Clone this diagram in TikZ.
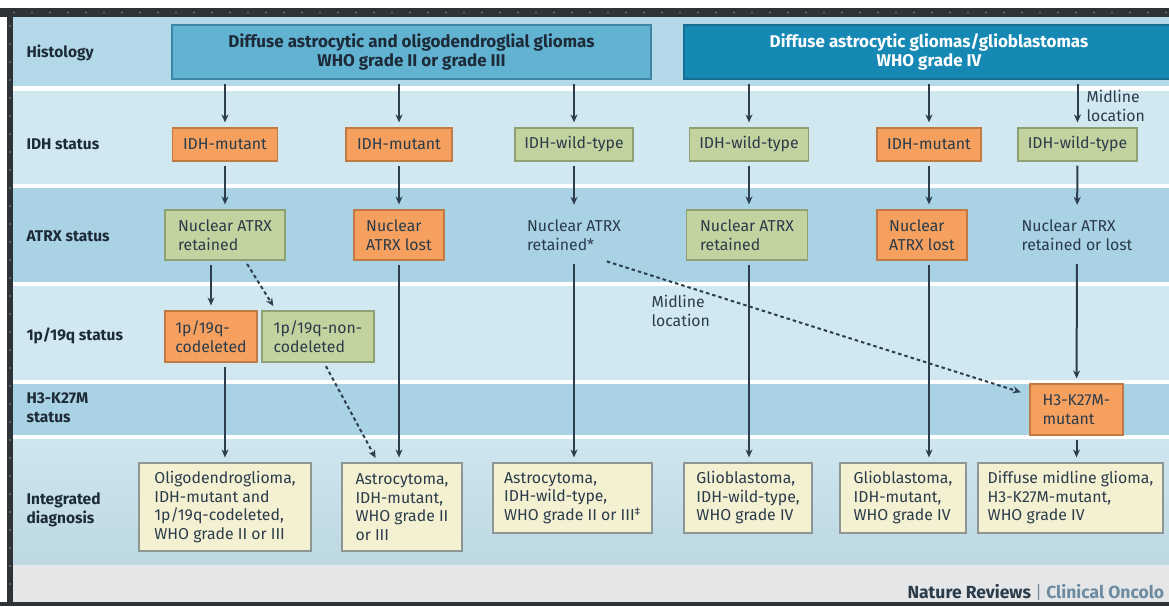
\documentclass[tikz,border=0pt]{standalone}
\usepackage{fontspec}
\setmainfont{Fira Sans}
\usetikzlibrary{shapes, backgrounds, arrows, arrows.meta, positioning}

\definecolor{framecol}{HTML}{2E3338}
\definecolor{dotcol}{HTML}{6A7075}
\definecolor{banddark}{HTML}{A9D2E4}
\definecolor{bandtop}{HTML}{B3D9E9}
\definecolor{bandlight}{HTML}{D2E8F1}
\definecolor{diagtop}{HTML}{CFE6EF}
\definecolor{diagbot}{HTML}{BDD8E0}
\definecolor{footcol}{HTML}{E4E6E7}
\definecolor{headAfill}{HTML}{62B2D2}
\definecolor{headAline}{HTML}{3D86A3}
\definecolor{headBfill}{HTML}{1588B4}
\definecolor{headBline}{HTML}{146F93}
\definecolor{mutfill}{HTML}{F5A05E}
\definecolor{mutline}{HTML}{C27A45}
\definecolor{wtfill}{HTML}{C3D39F}
\definecolor{wtline}{HTML}{8FA074}
\definecolor{diagfill}{HTML}{F4F1D3}
\definecolor{diagline}{HTML}{8E9695}
\definecolor{arrcol}{HTML}{2C3E4E}
\definecolor{txtcol}{HTML}{2A3B4A}
\definecolor{labelcol}{HTML}{1D2B38}
\definecolor{footgray}{HTML}{7E8E99}
\definecolor{footblue}{HTML}{6C8BA0}

\begin{document}
\begin{tikzpicture}[x=1pt,y=-1pt]
        \tikzstyle{every node}=[align=center, text=txtcol, font=\fontsize{15.8}{18.5}\selectfont]
        \tikzstyle{rowlabel}=[anchor=west, align=left, text=labelcol, font=\fontsize{15.5}{19}\selectfont\bfseries]
        \tikzstyle{headA}=[draw=headAline, fill=headAfill, line width=1.2pt, text=labelcol, font=\fontsize{17}{19}\selectfont\bfseries]
        \tikzstyle{headB}=[draw=headBline, fill=headBfill, line width=1.2pt, text=white, font=\fontsize{17}{19}\selectfont\bfseries]
        \tikzstyle{mutbox}=[draw=mutline, fill=mutfill, line width=1.2pt, inner sep=3pt, align=left]
        \tikzstyle{wtbox}=[draw=wtline, fill=wtfill, line width=1.2pt, inner sep=3pt, align=left]
        \tikzstyle{diagbox}=[draw=diagline, fill=diagfill, line width=1.2pt, inner sep=3pt, align=left]
        \tikzstyle{plain}=[inner sep=3pt, align=left, minimum height=50pt]
        \tikzstyle{flow}=[line width=2pt, draw=arrcol, -{Stealth[length=8pt,width=7pt]}, shorten <=4pt, shorten >=5pt]
        \tikzstyle{flowdash}=[flow, dash pattern=on 3.5pt off 3pt]

        \useasboundingbox (0,0) rectangle (1169,606);

        % screen frame and row bands
        \fill[white] (0,0) rectangle (1169,606);
        \fill[framecol] (0,8) rectangle (1169,17);
        \fill[framecol] (7,8) rectangle (13,606);
        \fill[framecol] (0,602) rectangle (1169,606);
        \foreach \x in {14,32,...,1169} \fill[dotcol] (\x,12.5) circle (1.1);
        \foreach \y in {26,44,...,600} \fill[dotcol] (10,\y) circle (1.1);
        \fill[bandtop] (13,17) rectangle (1169,86);
        \fill[bandlight] (13,91) rectangle (1169,184);
        \fill[banddark] (13,188) rectangle (1169,282);
        \fill[bandlight] (13,286) rectangle (1169,380);
        \fill[banddark] (13,384) rectangle (1169,435);
        \shade[top color=diagtop, bottom color=diagbot] (13,439) rectangle (1169,565);
        \fill[footcol] (13,565) rectangle (1169,602);

        % row labels
        \node[rowlabel] at (23,53) (lhist) {Histology};
        \node[rowlabel] at (23,144) (lidh) {IDH status};
        \node[rowlabel] at (23,236) (latrx) {ATRX status};
        \node[rowlabel] at (23,336) (lcodel) {1p/19q status};
        \node[rowlabel] at (23,408) (lh3) {H3-K27M\\status};
        \node[rowlabel] at (23,510) (ldiag) {Integrated\\diagnosis};

        % histology
        \node[headA, minimum width=479pt, minimum height=54pt] at (411.5,52) (hist1) {Diffuse astrocytic and oligodendroglial gliomas\\WHO grade II or grade III};
        \node[headB, minimum width=490pt, minimum height=54pt] at (929,52) (hist2) {Diffuse astrocytic gliomas/glioblastomas\\WHO grade IV};

        % IDH status
        \node[mutbox, minimum width=105pt, minimum height=33pt] at (225,144.5) (idh1) {IDH-mutant};
        \node[mutbox, minimum width=106pt, minimum height=33pt] at (399,144.5) (idh2) {IDH-mutant};
        \node[wtbox, minimum width=118pt, minimum height=33pt] at (574,144.5) (idh3) {IDH-wild-type};
        \node[wtbox, minimum width=119pt, minimum height=33pt] at (749,144.5) (idh4) {IDH-wild-type};
        \node[mutbox, minimum width=104pt, minimum height=33pt] at (929,144.5) (idh5) {IDH-mutant};
        \node[wtbox, minimum width=119pt, minimum height=33pt] at (1077.5,144.5) (idh6) {IDH-wild-type};
        \node[anchor=west, align=left] at (1083,106) (mid1) {Midline\\location};

        % ATRX status
        \node[wtbox, minimum width=120pt, minimum height=50pt] at (225,235) (atrx1) {Nuclear ATRX\\retained};
        \node[mutbox, minimum width=90pt, minimum height=50pt] at (399,235) (atrx2) {Nuclear\\ATRX lost};
        \node[plain] at (574,235) (atrx3) {Nuclear ATRX\\retained*};
        \node[wtbox, minimum width=121pt, minimum height=50pt] at (747,235) (atrx4) {Nuclear ATRX\\retained};
        \node[mutbox, minimum width=90pt, minimum height=50pt] at (922,235) (atrx5) {Nuclear\\ATRX lost};
        \node[plain] at (1077,235) (atrx6) {Nuclear ATRX\\retained or lost};

        % 1p/19q status
        \node[mutbox, minimum width=92pt, minimum height=51pt] at (211,336.5) (codel) {1p/19q-\\codeleted};
        \node[wtbox, minimum width=112pt, minimum height=51pt] at (318,336.5) (noncodel) {1p/19q-non-\\codeleted};
        \node[anchor=west, align=left] at (648,311) (mid2) {Midline\\location};

        % H3-K27M status
        \node[mutbox, minimum width=93pt, minimum height=51pt] at (1076.5,409.5) (h3mut) {H3-K27M-\\mutant};

        % integrated diagnosis
        \node[diagbox, minimum width=172pt, minimum height=88pt] at (225,507) (diag1) {Oligodendroglioma,\\IDH-mutant and\\1p/19q-codeleted,\\WHO grade II or III};
        \node[diagbox, minimum width=120pt, minimum height=88pt] at (402,507) (diag2) {Astrocytoma,\\IDH-mutant,\\WHO grade II\\or III};
        \node[diagbox, minimum width=159pt, minimum height=70pt] at (572.5,498) (diag3) {Astrocytoma,\\IDH-wild-type,\\WHO grade II or III\textsuperscript{‡}};
        \node[diagbox, minimum width=128pt, minimum height=70pt] at (748,498) (diag4) {Glioblastoma,\\IDH-wild-type,\\WHO grade IV};
        \node[diagbox, minimum width=126pt, minimum height=70pt] at (903,498) (diag5) {Glioblastoma,\\IDH-mutant,\\WHO grade IV};
        \node[diagbox, minimum width=185pt, minimum height=70pt] at (1070.5,498) (diag6) {Diffuse midline glioma,\\H3-K27M-mutant,\\WHO grade IV};

        % footer
        \node[anchor=west, font=\fontsize{17.5}{19}\selectfont\bfseries] at (904,592) (foot) {Nature Reviews \textcolor{footgray}{\mdseries|} \textcolor{footblue}{Clinical Oncolo}};

        % connectors
        \draw[flow] (hist1.south -| idh1.north) -- (idh1.north);
        \draw[flow] (hist1.south -| idh2.north) -- (idh2.north);
        \draw[flow] (hist1.south -| idh3.north) -- (idh3.north);
        \draw[flow] (hist2.south -| idh4.north) -- (idh4.north);
        \draw[flow] (hist2.south -| idh5.north) -- (idh5.north);
        \draw[flow] (hist2.south -| idh6.north) -- (idh6.north);
        \draw[flow] (idh1) -- (atrx1);
        \draw[flow] (idh2) -- (atrx2);
        \draw[flow] (idh3) -- (atrx3);
        \draw[flow] (idh4.south) -- (idh4.south |- atrx4.north);
        \draw[flow] (idh5.south) -- (idh5.south |- atrx5.north);
        \draw[flow] (idh6) -- (atrx6);

        \draw[flow] (atrx1.south -| codel.north) -- (codel.north);
        \draw[flowdash] ([xshift=20pt]atrx1.south) -- ([xshift=-42pt]noncodel.north);
        \draw[flow] (codel.south -| diag1.north) -- (diag1.north);
        \draw[flowdash] ([xshift=6pt]noncodel.south) -- ([xshift=-24pt]diag2.north);
        \draw[flow] (atrx2.south) -- (atrx2.south |- diag2.north);
        \draw[flow] (atrx3.south) -- (atrx3.south |- diag3.north);
        \draw[flow] (atrx4.south -| idh4.south) -- (diag4.north -| idh4.south);
        \draw[flow] (atrx5.south -| idh5.south) -- (diag5.north -| idh5.south);
        \draw[flow] (atrx6) -- (h3mut);
        \draw[flow] (h3mut.south) -- (h3mut.south |- diag6.north);
        \draw[flowdash, shorten >=9pt] ([xshift=29pt]atrx3.south) -- ([yshift=14.5pt]h3mut.west);
        \end{tikzpicture}
\end{document}
